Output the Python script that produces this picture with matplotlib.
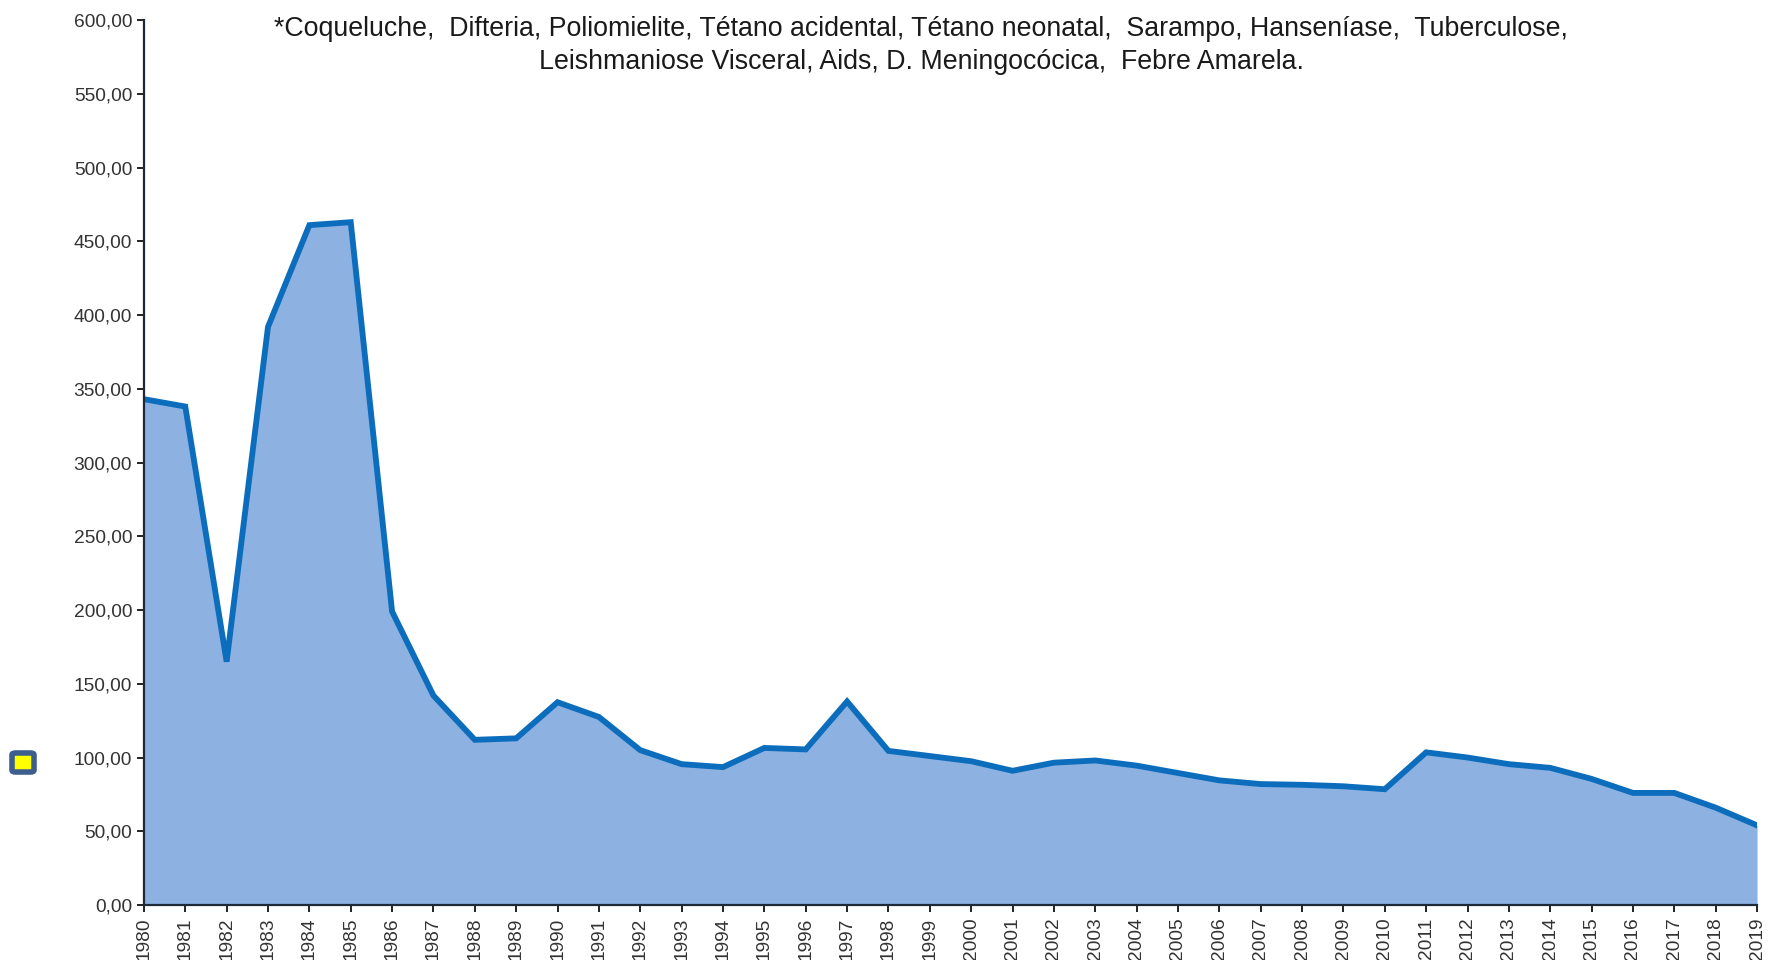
#!/usr/bin/env python3
"""Area chart: coeficiente de incidência de doenças selecionadas, 1980-2019."""
import matplotlib
matplotlib.use("Agg")
import matplotlib.pyplot as plt
from matplotlib.patches import FancyBboxPatch

years = list(range(1980, 2020))
values = [343, 338, 165, 392, 461, 463, 199, 142, 112, 113,
          137.5, 127.5, 105, 95.5, 93.5, 106.5, 105.5, 138, 104.5, 101,
          97.5, 91, 96.5, 98, 94.5, 89.5, 84.5, 82, 81.5, 80.5,
          78.5, 103.5, 100, 95.5, 93, 85.5, 76, 76, 66, 54]
y_ticks = list(range(0, 601, 50))
note = ("*Coqueluche,  Difteria, Poliomielite, Tétano acidental, Tétano neonatal,  Sarampo, Hanseníase,  Tuberculose,\n"
        "Leishmaniose Visceral, Aids, D. Meningocócica,  Febre Amarela.")

plt.rcParams["font.family"] = ["Liberation Sans", "DejaVu Sans"]

fig = plt.figure(figsize=(17.68, 9.6), dpi=100)
ax = fig.add_axes([0.0814, 0.0573, 0.9124, 0.9217])

ax.fill_between(years, values, 0, color="#8db1e1", lw=0)
ax.plot(years, values, color="#0c6dbd", lw=4.2, solid_joinstyle="miter")

ax.set_xlim(years[0], years[-1])
ax.set_ylim(0, 600)
ax.set_yticks(y_ticks)
ax.set_yticklabels([f"{v:.2f}".replace(".", ",") for v in y_ticks])
ax.set_xticks(years)
ax.set_xticklabels([str(y) for y in years], rotation=90)

for side in ("top", "right"):
    ax.spines[side].set_visible(False)
for side in ("left", "bottom"):
    ax.spines[side].set_color("#1e2a3a")
    ax.spines[side].set_linewidth(1.6)
ax.tick_params(axis="both", colors="#222222", labelcolor="#333333",
               labelsize=13.8, length=5, width=1.4, direction="out")
ax.tick_params(axis="x", pad=4)

fig.text(0.521, 0.983, note, ha="center", va="top", fontsize=19.3,
         color="#1a1a1a", linespacing=1.32)

marker = FancyBboxPatch((12 / 1768, 1 - 772 / 960), 22 / 1768, 19 / 960,
                        boxstyle="round,pad=0,rounding_size=0.002",
                        transform=fig.transFigure, facecolor="#ffff00",
                        edgecolor="#3e5f8e", linewidth=4)
fig.patches.append(marker)

fig.savefig("out.png", dpi=100)
plt.close(fig)
